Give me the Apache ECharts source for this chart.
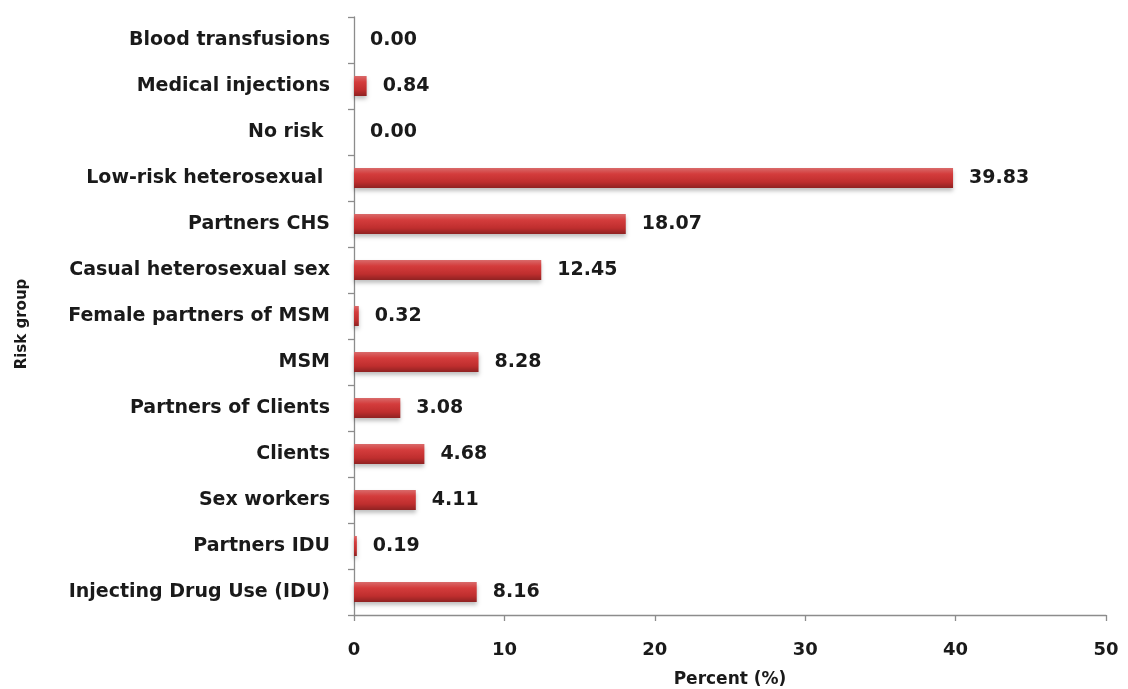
<!DOCTYPE html>
<html>
<head>
<meta charset="utf-8">
<script src="https://cdn.jsdelivr.net/npm/echarts@6/dist/echarts.min.js"></script>
<style>
  html, body { margin: 0; padding: 0; background: #fff; }
  #chart { width: 1128px; height: 689px; }
</style>
</head>
<body>
<div id="chart"></div>
<script>
// Risk groups, listed bottom to top as they appear on the category axis
const riskGroups = [
  'Injecting Drug Use (IDU)',
  'Partners IDU',
  'Sex workers',
  'Clients',
  'Partners of Clients',
  'MSM',
  'Female partners of MSM',
  'Casual heterosexual sex',
  'Partners CHS',
  'Low-risk heterosexual ',
  'No risk ',
  'Medical injections',
  'Blood transfusions'
];
const percentValues = [8.16, 0.19, 4.11, 4.68, 3.08, 8.28, 0.32, 12.45, 18.07, 39.83, 0.00, 0.84, 0.00];
const percentTicks = [0, 10, 20, 30, 40, 50];

const labelFont = '"DejaVu Sans", "Open Sans", sans-serif';
const textColor = '#1a1a1a';

const chart = echarts.init(document.getElementById('chart'));
chart.setOption({
  animation: false,
  grid: { left: 354, right: 22, top: 17, bottom: 74, containLabel: false, outerBoundsMode: 'none' },
  graphic: [{
    type: 'text',
    x: 22,
    y: 324,
    rotation: Math.PI / 2,
    style: {
      text: 'Risk group',
      fontFamily: labelFont,
      fontWeight: 'bold',
      fontSize: 15,
      fill: textColor,
      align: 'center',
      verticalAlign: 'middle'
    }
  }],
  xAxis: {
    type: 'value',
    min: percentTicks[0],
    max: percentTicks[percentTicks.length - 1],
    interval: 10,
    name: 'Percent (%)',
    nameLocation: 'middle',
    nameGap: 56,
    nameTextStyle: { fontFamily: labelFont, fontWeight: 'bold', fontSize: 17, color: textColor },
    axisLine: { show: true, lineStyle: { color: '#8c8c8c', width: 1.3 } },
    axisTick: { show: true, length: 6, lineStyle: { color: '#8c8c8c', width: 1.3 } },
    axisLabel: { fontFamily: labelFont, fontWeight: 'bold', fontSize: 18, color: textColor, margin: 26 },
    splitLine: { show: false }
  },
  yAxis: {
    type: 'category',
    data: riskGroups,
    axisLine: { show: true, lineStyle: { color: '#8c8c8c', width: 1.3 } },
    axisTick: { show: true, length: 6, lineStyle: { color: '#8c8c8c', width: 1.3 } },
    axisLabel: { fontFamily: labelFont, fontWeight: 'bold', fontSize: 19, color: textColor, margin: 24 }
  },
  series: [{
    type: 'bar',
    data: percentValues,
    barWidth: 20,
    itemStyle: {
      color: new echarts.graphic.LinearGradient(0, 0, 0, 1, [
        { offset: 0, color: '#d96a6a' },
        { offset: 0.3, color: '#d43c3c' },
        { offset: 0.7, color: '#bf2e2e' },
        { offset: 1, color: '#8f2222' }
      ]),
      shadowColor: 'rgba(0,0,0,0.25)',
      shadowBlur: 4,
      shadowOffsetY: 3
    },
    label: {
      show: true,
      position: 'right',
      distance: 16,
      formatter: p => p.value.toFixed(2),
      fontFamily: labelFont,
      fontWeight: 'bold',
      fontSize: 19,
      color: textColor
    }
  }]
});
</script>
</body>
</html>
